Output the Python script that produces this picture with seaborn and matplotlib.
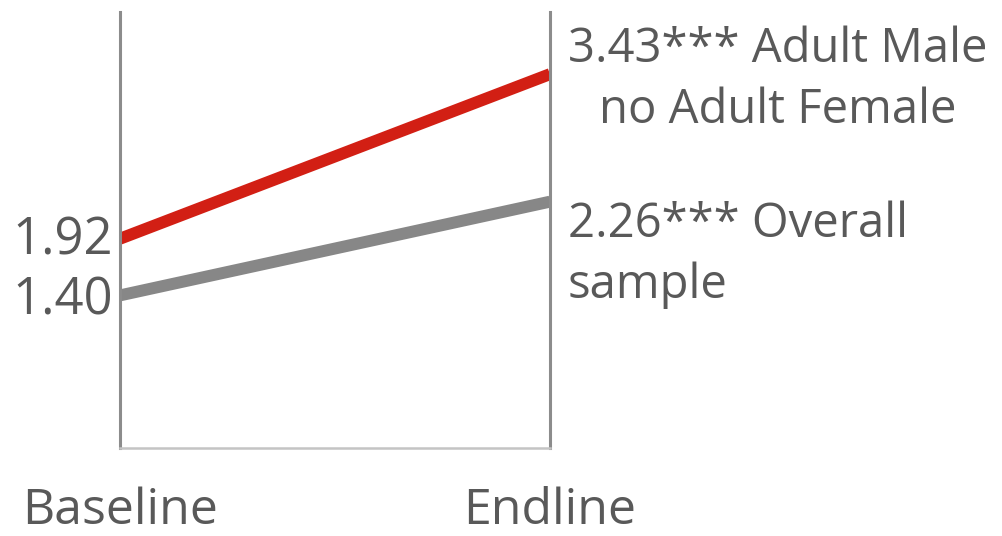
import pandas as pd
import matplotlib.pyplot as plt
import seaborn as sns

# data
stages = ['Baseline', 'Endline']
groups = ['Adult Male no Adult Female', 'Overall sample']
male_only = [1.92, 3.43]
overall = [1.40, 2.26]
end_labels = ['3.43*** Adult Male\nno Adult Female', '2.26*** Overall\nsample']
start_labels = ['1.92', '1.40']
colors = ['#d21f14', '#878787']

df = pd.DataFrame({
    'stage': stages * 2,
    'pos': [0, 1, 0, 1],
    'value': male_only + overall,
    'group': [groups[0]] * 2 + [groups[1]] * 2,
})

sns.set_style('white')
plt.rcParams['font.family'] = ['Open Sans', 'DejaVu Sans']
text_col = '#595959'

fig = plt.figure(figsize=(10.02, 5.36), dpi=100)
ax = fig.add_axes([0.1198, 0.1642, 0.4291, 0.8134])

sns.lineplot(data=df, x='pos', y='value', hue='group', palette=colors,
             linewidth=8.6, legend=False, ax=ax, solid_capstyle='butt')

ax.set_xlim(0, 1)
ax.set_ylim(0, 4)
ax.set_yticks([])
ax.set_xticks([0, 1])
ax.set_xticklabels(stages, fontsize=36, color=text_col)
ax.tick_params(axis='x', length=0, pad=28)
ax.set_xlabel('')
ax.set_ylabel('')

for side in ['left', 'right']:
    ax.spines[side].set_color('#8c8c8c')
    ax.spines[side].set_linewidth(2.2)
ax.spines['bottom'].set_color('#c4c4c4')
ax.spines['bottom'].set_linewidth(1.8)
ax.spines['top'].set_visible(False)

# start values on the left
starts = [male_only[0], overall[0]]
start_offsets = [-2, -4]
for lab, v, off in zip(start_labels, starts, start_offsets):
    ax.annotate(lab, xy=(0, v), xytext=(-5, off), textcoords='offset points',
                ha='right', va='center', fontsize=36.5, color=text_col)

# end values on the right
ends = [male_only[1], overall[1]]
end_offsets = [35, 1]
end_align = ['center', 'left']
for lab, v, off, al in zip(end_labels, ends, end_offsets, end_align):
    ax.annotate(lab, xy=(1, v), xytext=(13, off), textcoords='offset points',
                ha='left', va='top', multialignment=al,
                fontsize=34, color=text_col, linespacing=1.38,
                annotation_clip=False)

plt.savefig('out.png', dpi=100)
